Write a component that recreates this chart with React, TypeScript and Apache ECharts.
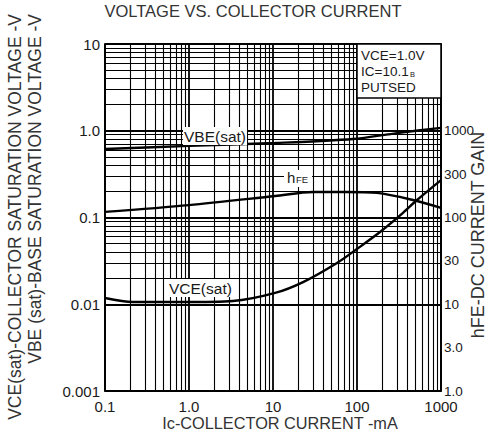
import React, { useEffect, useRef } from "react";
import * as echarts from "echarts";

// Collector current (mA) and curve values
const vceSatCurrent = [0.1, 0.215, 0.85, 3.34, 10.6, 22.8, 57.8, 100, 188, 353, 518, 1000];
const vceSatVolt = [0.0118, 0.0106, 0.0106, 0.0109, 0.0135, 0.018, 0.0299, 0.0434, 0.068, 0.113, 0.159, 0.27];

const vbeSatCurrent = [0.1, 1, 10.6, 89.5, 299, 1000];
const vbeSatVolt = [0.616, 0.67, 0.722, 0.803, 0.94, 1.08];

const hfeCurrent = [0.1, 1, 10.6, 30, 72, 173, 464, 1000];
const hfeGain = [116, 139, 177, 197, 197, 192, 159, 129];

// Tick labels
const xTickLabels = ["0.1", "1.0", "10", "100", "1000"]; // 10^-1 .. 10^3
const leftTickLabels = ["0.001", "0.01", "0.1", "1.0", "10"]; // 10^-3 .. 10^1
const rightTickLabels = ["1.0", "3.0", "10", "30", "100", "300", "1000", "", ""]; // sqrt(10)^0 .. ^8

const FONT = "'Liberation Sans', Arial, sans-serif";
const INK = "#1a1a1a";

function minorLines(fromExp: number, toExp: number): number[] {
  const out: number[] = [];
  for (let e = fromExp; e < toExp; e++) {
    for (let m = 2; m <= 9; m++) out.push(m * Math.pow(10, e));
  }
  return out;
}

export default function App() {
  const ref = useRef<HTMLDivElement>(null);

  useEffect(() => {
    if (!ref.current) return;
    const chart = echarts.init(ref.current, undefined, { renderer: "svg" });
    const zip = (xs: number[], ys: number[]) => xs.map((x, i) => [x, ys[i]]);
    const rBase = Math.sqrt(10);

    const gridX = minorLines(-1, 3);
    const gridY = minorLines(-3, 1);

    const option: any = {
      animation: false,
      backgroundColor: "#fff",
      grid: {
        left: 105,
        right: 47,
        top: 44,
        bottom: 49,
        show: true,
        borderColor: "#000",
        borderWidth: 1.5,
        backgroundColor: "transparent",
      },
      xAxis: {
        type: "log",
        logBase: 10,
        min: 0.1,
        max: 1000,
        axisLine: { show: true, lineStyle: { color: "#000", width: 1.5 } },
        axisTick: { show: false },
        splitLine: { show: true, lineStyle: { color: "#000", width: 1.8 } },
        axisLabel: {
          margin: 8,
          fontSize: 15,
          fontFamily: FONT,
          color: INK,
          formatter: (v: number) => xTickLabels[Math.round(Math.log10(v)) + 1] ?? "",
        },
      },
      yAxis: [
        {
          type: "log",
          logBase: 10,
          min: 0.001,
          max: 10,
          axisLine: { show: true, lineStyle: { color: "#000", width: 1.5 } },
          axisTick: { show: false },
          splitLine: { show: true, lineStyle: { color: "#000", width: 1.8 } },
          axisLabel: {
            margin: 5,
            fontSize: 15,
            fontFamily: FONT,
            color: INK,
            formatter: (v: number) => leftTickLabels[Math.round(Math.log10(v)) + 3] ?? "",
          },
        },
        {
          type: "log",
          logBase: rBase,
          min: 1,
          max: 10000,
          position: "right",
          axisLine: { show: true, lineStyle: { color: "#000", width: 1.5 } },
          axisTick: { show: false },
          splitLine: { show: false },
          axisLabel: {
            margin: 3,
            fontSize: 13.5,
            fontFamily: FONT,
            color: INK,
            formatter: (v: number) =>
              rightTickLabels[Math.round(Math.log(v) / Math.log(rBase))] ?? "",
          },
        },
      ],
      series: [
        {
          type: "line",
          data: [[1, 1]],
          showSymbol: false,
          silent: true,
          z: 1,
          lineStyle: { width: 0 },
          markLine: {
            silent: true,
            symbol: ["none", "none"],
            label: { show: false },
            lineStyle: { color: "#000", width: 1.1, type: "solid" },
            data: [
              ...gridX.map((v) => ({ xAxis: v })),
              ...gridY.map((v) => ({ yAxis: v })),
            ],
          },
        },
        {
          name: "VBE(sat)",
          type: "line",
          data: zip(vbeSatCurrent, vbeSatVolt),
          smooth: 0.3,
          showSymbol: false,
          z: 5,
          lineStyle: { color: "#000", width: 2.4 },
        },
        {
          name: "VCE(sat)",
          type: "line",
          data: zip(vceSatCurrent, vceSatVolt),
          smooth: 0.3,
          showSymbol: false,
          z: 5,
          lineStyle: { color: "#000", width: 2.4 },
        },
        {
          name: "hFE",
          type: "line",
          yAxisIndex: 1,
          data: zip(hfeCurrent, hfeGain),
          smooth: 0.3,
          showSymbol: false,
          z: 5,
          lineStyle: { color: "#000", width: 2.4 },
        },
      ],
      graphic: [
        {
          type: "text",
          x: 253,
          y: 11,
          z: 10,
          style: {
            text: "VOLTAGE VS. COLLECTOR CURRENT",
            fontSize: 16.5,
            fontFamily: FONT,
            fill: "#333",
            align: "center",
            verticalAlign: "middle",
          },
        },
        {
          type: "text",
          x: 15,
          y: 14,
          rotation: Math.PI / 2,
          z: 10,
          style: {
            text: "VCE(sat)-COLLECTOR SATURATION VOLTAGE -V",
            fontSize: 17.5,
            fontFamily: FONT,
            fill: "#333",
            align: "right",
            verticalAlign: "middle",
          },
        },
        {
          type: "text",
          x: 35,
          y: 14,
          rotation: Math.PI / 2,
          z: 10,
          style: {
            text: "VBE (sat)-BASE SATURATION VOLTAGE -V",
            fontSize: 17.5,
            fontFamily: FONT,
            fill: "#333",
            align: "right",
            verticalAlign: "middle",
          },
        },
        {
          type: "text",
          x: 478,
          y: 235,
          rotation: Math.PI / 2,
          z: 10,
          style: {
            text: "hFE-DC CURRENT GAIN",
            fontSize: 18,
            fontFamily: FONT,
            fill: "#333",
            align: "center",
            verticalAlign: "middle",
          },
        },
        {
          type: "text",
          x: 280,
          y: 423,
          z: 10,
          style: {
            text: "Ic-COLLECTOR CURRENT -mA",
            fontSize: 16.3,
            fontFamily: FONT,
            fill: "#333",
            align: "center",
            verticalAlign: "middle",
          },
        },
        {
          type: "rect",
          z: 10,
          shape: { x: 357, y: 44, width: 84, height: 54 },
          style: { fill: "#fff", stroke: "#000", lineWidth: 1.5 },
        },
        {
          type: "text",
          x: 361,
          y: 55,
          z: 11,
          style: { text: "VCE=1.0V", fontSize: 13.5, lineHeight: 13, fontFamily: FONT, fill: INK, verticalAlign: "middle" },
        },
        {
          type: "text",
          x: 361,
          y: 71,
          z: 11,
          style: { text: "IC=10.1", fontSize: 13.5, lineHeight: 13, fontFamily: FONT, fill: INK, verticalAlign: "middle" },
        },
        {
          type: "text",
          x: 410,
          y: 74,
          z: 11,
          style: { text: "B", fontSize: 7.5, lineHeight: 7, fontFamily: FONT, fill: INK, verticalAlign: "middle" },
        },
        {
          type: "text",
          x: 361,
          y: 87,
          z: 11,
          style: { text: "PUTSED", fontSize: 13.5, lineHeight: 13, fontFamily: FONT, fill: INK, verticalAlign: "middle" },
        },
        {
          type: "text",
          x: 183,
          y: 136,
          z: 11,
          style: {
            text: "VBE(sat)",
            fontSize: 15.5,
            fontFamily: FONT,
            fill: INK,
            verticalAlign: "middle",
            backgroundColor: "#fff",
            padding: [1, 1, 1, 1],
          },
        },
        {
          type: "rect",
          z: 10,
          shape: { x: 284, y: 170, width: 28, height: 17 },
          style: { fill: "#fff" },
        },
        {
          type: "text",
          x: 287,
          y: 185,
          z: 11,
          style: { text: "h", fontSize: 15, fontFamily: FONT, fill: INK, verticalAlign: "bottom" },
        },
        {
          type: "text",
          x: 296,
          y: 184,
          z: 11,
          style: { text: "FE", fontSize: 9.5, fontFamily: FONT, fill: INK, verticalAlign: "bottom" },
        },
        {
          type: "text",
          x: 168,
          y: 288,
          z: 11,
          style: {
            text: "VCE(sat)",
            fontSize: 15.5,
            fontFamily: FONT,
            fill: INK,
            verticalAlign: "middle",
            backgroundColor: "#fff",
            padding: [1, 1, 1, 1],
          },
        },
      ],
    };

    chart.setOption(option);
    return () => chart.dispose();
  }, []);

  return (
    <div
      ref={ref}
      style={{ position: "fixed", left: 0, top: 0, width: 488, height: 440, background: "#fff" }}
    />
  );
}
